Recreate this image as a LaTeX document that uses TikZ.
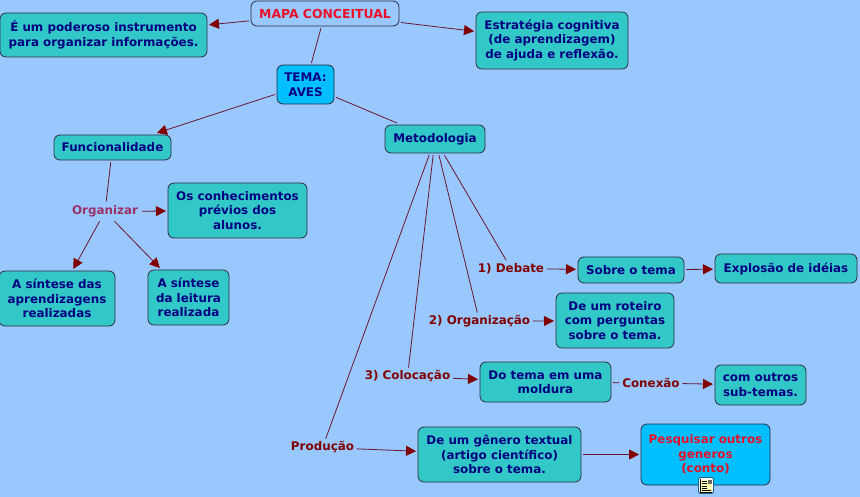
\documentclass[tikz,border=0pt]{standalone}
\usepackage{fontspec}
\setmainfont{DejaVu Sans}
\usetikzlibrary{arrows.meta}
\definecolor{bgblue}{HTML}{99C8FF}
\definecolor{teal}{HTML}{33C8C8}
\definecolor{skyb}{HTML}{00BFFF}
\definecolor{navy}{HTML}{000080}
\definecolor{redt}{HTML}{E81028}
\definecolor{edgeb}{HTML}{2E2A40}
\definecolor{linkc}{HTML}{6A1530}
\definecolor{tipc}{HTML}{800000}
\definecolor{orgc}{HTML}{993366}
\tikzset{
  base/.style={font=\fontsize{11.9}{14.5}\selectfont\bfseries, align=center, inner sep=0pt, outer sep=2pt},
  tbox/.style={base, draw=edgeb, line width=0.8pt, rounded corners=6pt, fill=teal, text=navy},
  cbox/.style={tbox, fill=skyb},
  wbox/.style={tbox, fill=bgblue, text=redt},
  lab/.style={base, text=tipc, outer sep=3pt},
  sz/.style 2 args={minimum width=#1 pt, minimum height=#2 pt},
  plain/.style={draw=linkc, line width=0.8pt},
  arr/.style={plain, -{Triangle[length=10pt,width=10pt,color=tipc]}},
}
\begin{document}
\begin{tikzpicture}[x=1pt,y=-1pt]
\path[use as bounding box, fill=bgblue] (0,0) rectangle (860,497);
\node[wbox, sz={148}{25}, font=\fontsize{12.4}{14.5}\selectfont\bfseries] (mapa) at (325,13.5) {MAPA CONCEITUAL};
\node[tbox, sz={207}{44}] (um) at (103.5,35) {É um poderoso instrumento\\para organizar informações.};
\node[tbox, sz={152}{57}] (estr) at (552,40.5) {Estratégia cognitiva\\(de aprendizagem)\\de ajuda e reflexão.};
\node[cbox, sz={57}{39}] (tema) at (305.5,84.5) {TEMA:\\AVES};
\node[tbox, sz={117}{25}] (func) at (112.5,147.5) {Funcionalidade};
\node[tbox, sz={100}{28}] (metod) at (435,139) {Metodologia};
\node[lab, text=orgc, outer sep=4pt] (org) at (105,211.5) {Organizar};
\node[tbox, sz={139}{55}] (prev) at (237.5,210.5) {Os conhecimentos\\prévios dos\\alunos.};
\node[tbox, sz={116}{55}] (sint1) at (57,298.5) {A síntese das\\aprendizagens\\realizadas};
\node[tbox, sz={81}{55}] (sint2) at (188.5,297.5) {A síntese\\da leitura\\realizada};
\node[lab] (deb) at (511,268.5) {1) Debate};
\node[tbox, sz={106}{26}] (sobre) at (631,270) {Sobre o tema};
\node[tbox, sz={142}{29}] (expl) at (786,268.5) {Explosão de idéias};
\node[lab] (orgz) at (479.5,321.5) {2) Organização};
\node[tbox, sz={118}{55}] (rot) at (615,320.5) {De um roteiro\\com perguntas\\sobre o tema.};
\node[lab] (col) at (407.5,376.5) {3) Colocação};
\node[tbox, sz={131}{40}] (mold) at (545.5,382) {Do tema em uma\\moldura};
\node[lab] (con) at (651,383) {Conexão};
\node[tbox, sz={91}{40}] (sub) at (760.5,385) {com outros\\sub-temas.};
\node[lab] (prod) at (322.5,447.5) {Produção};
\node[tbox, sz={163}{55}] (gen) at (499.5,454.5) {De um gênero textual\\(artigo científico)\\sobre o tema.};
\node[cbox, sz={129}{61}, text=redt] (pesq) at (705.5,454.5) {Pesquisar outros\\generos\\(conto)};
\node[draw=edgeb!60!skyb, fill=white, rounded corners=1.5pt, line width=0.8pt, minimum width=15pt, minimum height=16pt, inner sep=0pt] (icon) at (706,485.5) {};
\fill[yellow!30] (700,479.5) rectangle (712,491.5);
\fill[black!60] (708,479.5) rectangle (712,483.5);
\draw[black, line width=0.7pt] (700.5,479) -- (700.5,492) -- (712,492);
\foreach \yy in {481,483.5,486,488.5}{\draw[black, line width=0.8pt] (702,\yy) -- (707,\yy);}
\draw[black, line width=0.8pt] (702,490) -- (711,490);

\draw[arr] (mapa) -- (um);
\draw[arr] (mapa) -- (estr);
\draw[plain] (mapa) -- (tema);
\draw[arr] (tema) -- (func);
\draw[plain] (tema) -- (metod);
\draw[plain] (func) -- (org);
\draw[arr] (org) -- (prev);
\draw[arr] (org) -- (sint1);
\draw[arr] (org) -- (sint2);
\draw[plain] (metod) -- (deb);
\draw[plain] (metod) -- (orgz);
\draw[plain] (metod) -- (col);
\draw[plain] (metod) -- (prod);
\draw[arr] (deb) -- (sobre);
\draw[arr] (sobre) -- (expl);
\draw[arr] (orgz) -- (rot);
\draw[arr] (col) -- (mold);
\draw[plain] (mold) -- (con);
\draw[arr] (con) -- (sub);
\draw[arr] (prod) -- (gen);
\draw[arr] (gen) -- (pesq);
\end{tikzpicture}
\end{document}
